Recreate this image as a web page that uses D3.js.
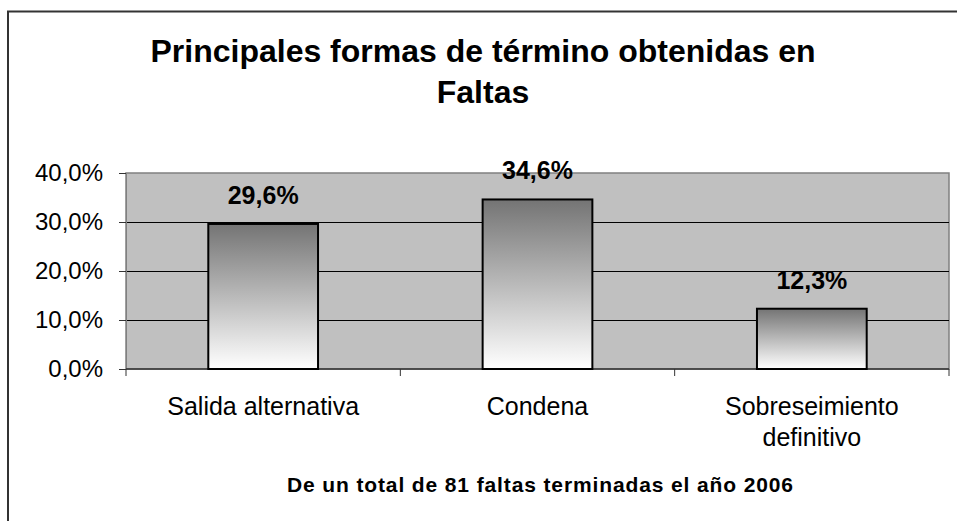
<!DOCTYPE html>
<html>
<head>
<meta charset="utf-8">
<script src="https://cdn.jsdelivr.net/npm/d3@7"></script>
<style>
  body { margin: 0; background: #fff; }
  svg { display: block; font-family: "Liberation Sans", Arial, sans-serif; }
</style>
</head>
<body>
<div id="chart"></div>
<script>
var categories = ["Salida alternativa", "Condena", "Sobreseimiento|definitivo"];
var values = [29.6, 34.6, 12.3];
var valueLabels = ["29,6%", "34,6%", "12,3%"];
var tickValues = [0, 10, 20, 30, 40];
var tickLabels = ["0,0%", "10,0%", "20,0%", "30,0%", "40,0%"];
var titleLines = ["Principales formas de término obtenidas en", "Faltas"];
var footnote = "De un total de 81 faltas terminadas el año 2006";

function drawChart(){
    var width = 957, height = 521;
    var plot = {left: 126, top: 173, right: 949, bottom: 369};

    var svg = d3.select("#chart").append("svg")
        .attr("width", width)
        .attr("height", height);

    // outer frame (only top and left edges are visible)
    svg.append("path")
        .attr("d", "M8,521 V11.5 H957")
        .attr("fill", "none")
        .attr("stroke", "#333")
        .attr("stroke-width", 2);

    var x = d3.scaleBand()
        .domain(categories)
        .range([plot.left, plot.right])
        .paddingInner(0.6)
        .paddingOuter(0.3);
    var xOuter = d3.scaleBand()
        .domain(categories)
        .range([plot.left, plot.right]);
    var y = d3.scaleLinear()
        .domain([0, 40])
        .range([plot.bottom, plot.top]);

    var defs = svg.append("defs");
    var grad = defs.append("linearGradient")
        .attr("id", "barGrad")
        .attr("x1", 0).attr("y1", 0).attr("x2", 0).attr("y2", 1);
    grad.append("stop").attr("offset", "0%").attr("stop-color", "#747474");
    grad.append("stop").attr("offset", "100%").attr("stop-color", "#ffffff");

    // plot area
    svg.append("rect")
        .attr("x", plot.left).attr("y", plot.top)
        .attr("width", plot.right - plot.left)
        .attr("height", plot.bottom - plot.top)
        .attr("fill", "#c0c0c0")
        .attr("stroke", "#808080")
        .attr("stroke-width", 1.5);

    // gridlines
    svg.append("g").selectAll("line")
        .data(tickValues.filter(function(d){ return d > 0 && d < 40; }))
        .enter().append("line")
        .attr("x1", plot.left).attr("x2", plot.right)
        .attr("y1", function(d){ return Math.round(y(d)) + 0.5; })
        .attr("y2", function(d){ return Math.round(y(d)) + 0.5; })
        .attr("stroke", "#000")
        .attr("stroke-width", 1);

    // y axis
    var yAxis = d3.axisLeft(y)
        .tickValues(tickValues)
        .tickFormat(function(d, i){ return tickLabels[i]; })
        .tickSize(7)
        .tickPadding(16);
    var gy = svg.append("g")
        .attr("transform", "translate(" + plot.left + ",0)")
        .call(yAxis);
    gy.select(".domain").attr("stroke", "#808080");
    gy.selectAll(".tick line").attr("stroke", "#333");
    gy.selectAll("text")
        .attr("font-size", 24)
        .attr("fill", "#000")
        .attr("font-family", "Liberation Sans, Arial, sans-serif");

    // x axis line and ticks at category boundaries
    svg.append("line")
        .attr("x1", plot.left).attr("x2", plot.right)
        .attr("y1", plot.bottom).attr("y2", plot.bottom)
        .attr("stroke", "#333").attr("stroke-width", 1.5);
    var bounds = categories.map(function(c){ return xOuter(c); }).concat([plot.right]);
    svg.append("g").selectAll("line")
        .data(bounds)
        .enter().append("line")
        .attr("x1", function(d){ return d; }).attr("x2", function(d){ return d; })
        .attr("y1", plot.bottom).attr("y2", plot.bottom + 7)
        .attr("stroke", "#333");

    // bars
    svg.append("g").selectAll("rect")
        .data(values)
        .enter().append("rect")
        .attr("x", function(d, i){ return x(categories[i]); })
        .attr("y", function(d){ return y(d); })
        .attr("width", x.bandwidth())
        .attr("height", function(d){ return y(0) - y(d); })
        .attr("fill", "url(#barGrad)")
        .attr("stroke", "#000")
        .attr("stroke-width", 2);

    // value labels
    svg.append("g").selectAll("text")
        .data(values)
        .enter().append("text")
        .attr("x", function(d, i){ return x(categories[i]) + x.bandwidth() / 2; })
        .attr("y", function(d){ return y(d) - 20; })
        .attr("text-anchor", "middle")
        .attr("font-size", 25)
        .attr("font-weight", "bold")
        .text(function(d, i){ return valueLabels[i]; });

    // category labels
    var cat = svg.append("g").selectAll("text")
        .data(categories)
        .enter().append("text")
        .attr("x", function(d){ return xOuter(d) + xOuter.bandwidth() / 2; })
        .attr("y", 415)
        .attr("text-anchor", "middle")
        .attr("font-size", 25);
    cat.selectAll("tspan")
        .data(function(d){ return d.split("|"); })
        .enter().append("tspan")
        .attr("x", function(){ return d3.select(this.parentNode).attr("x"); })
        .attr("dy", function(d, i){ return i === 0 ? 0 : 31; })
        .text(function(d){ return d; });

    // title
    svg.append("g").selectAll("text")
        .data(titleLines)
        .enter().append("text")
        .attr("x", 483)
        .attr("y", function(d, i){ return 62 + i * 41; })
        .attr("text-anchor", "middle")
        .attr("font-size", 32)
        .attr("font-weight", "bold")
        .text(function(d){ return d; });

    // footnote
    svg.append("text")
        .attr("x", 287)
        .attr("y", 492)
        .attr("font-size", 21)
        .attr("font-weight", "bold")
        .attr("textLength", 506)
        .attr("lengthAdjust", "spacing")
        .text(footnote);
}

drawChart();
</script>
</body>
</html>
